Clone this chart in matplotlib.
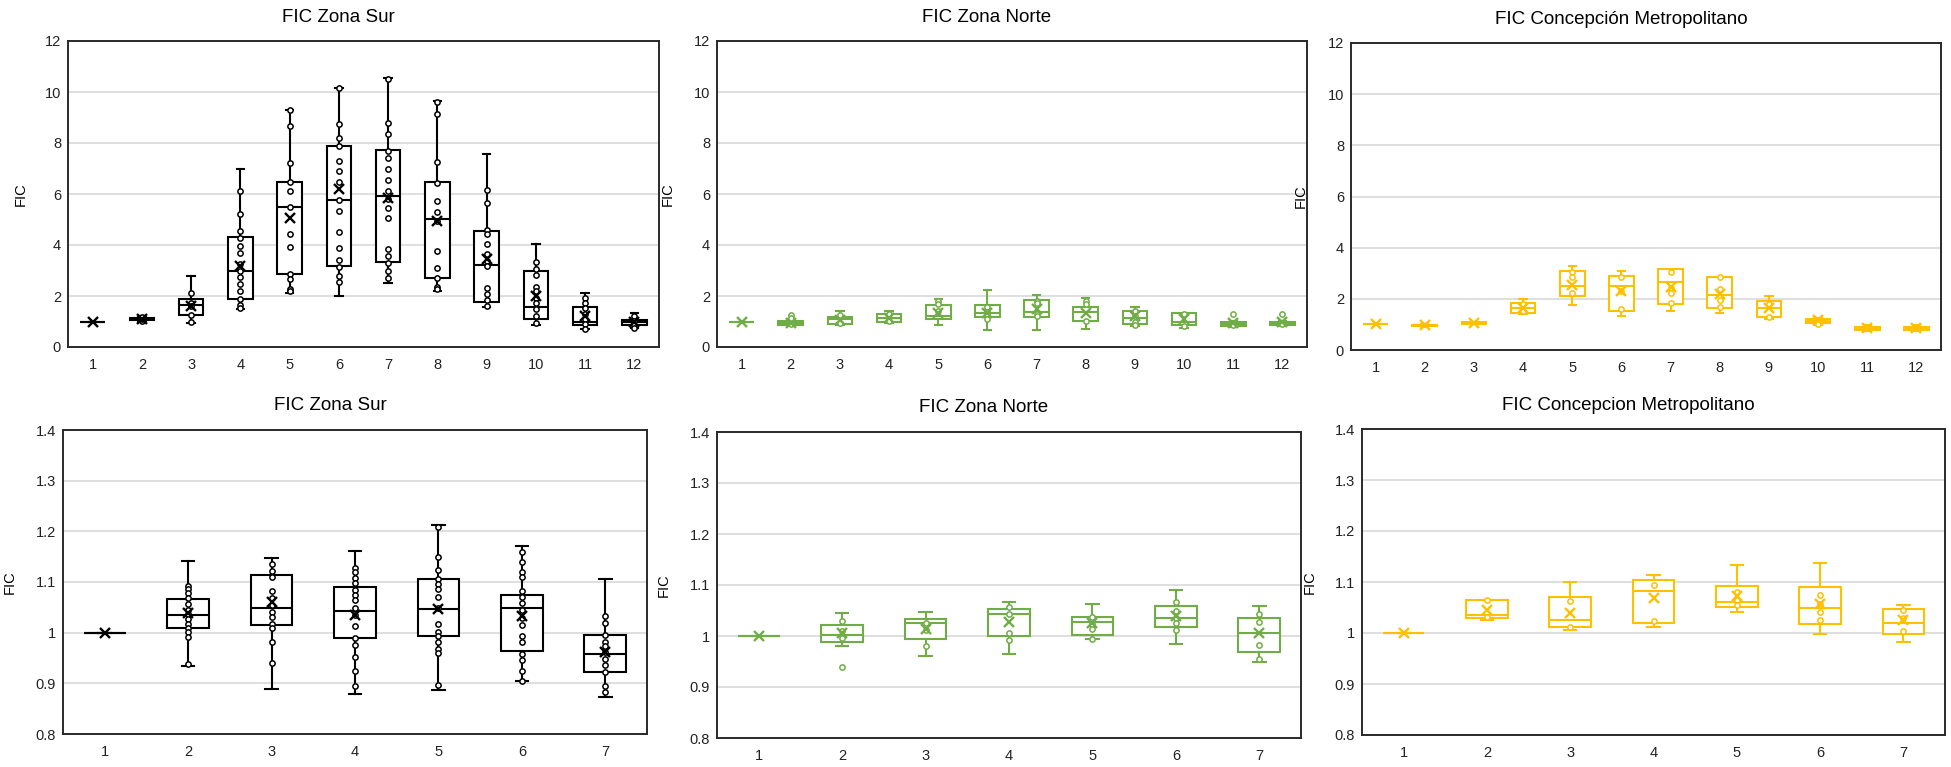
import matplotlib.pyplot as plt

plt.rcParams['font.family'] = ['Liberation Sans', 'DejaVu Sans']

# ---------------- data ----------------
top_x = list(range(1, 13))
bottom_x = list(range(1, 8))

top_yticks = [0, 2, 4, 6, 8, 10, 12]
top_ytick_labels = ['0', '2', '4', '6', '8', '10', '12']
bottom_yticks = [0.8, 0.9, 1.0, 1.1, 1.2, 1.3, 1.4]
bottom_ytick_labels = ['0.8', '0.9', '1', '1.1', '1.2', '1.3', '1.4']

# FIC Zona Sur (top)
sur_top_lo = [1.00, 1.02, 0.95, 1.48, 2.11, 2.00, 2.52, 2.20, 1.57, 0.88, 0.71, 0.73]
sur_top_q1 = [1.00, 1.05, 1.25, 1.87, 2.86, 3.17, 3.32, 2.69, 1.78, 1.11, 0.86, 0.86]
sur_top_med = [1.00, 1.08, 1.65, 2.97, 5.50, 5.77, 5.94, 5.03, 3.22, 1.57, 0.99, 0.97]
sur_top_q3 = [1.00, 1.12, 1.87, 4.30, 6.49, 7.88, 7.73, 6.49, 4.55, 2.97, 1.58, 1.04]
sur_top_hi = [1.00, 1.18, 2.78, 6.98, 9.30, 10.15, 10.55, 9.66, 7.55, 4.02, 2.11, 1.35]
sur_top_mean = [1.00, 1.10, 1.60, 3.19, 5.04, 6.19, 5.83, 4.95, 3.46, 2.00, 1.21, 0.97]
sur_top_pts = [
    [],
    [1.03, 1.08, 1.12, 1.17],
    [2.10, 1.74, 1.60, 1.25, 0.99],
    [6.12, 5.20, 4.54, 4.29, 3.98, 3.68, 3.26, 3.00, 2.76, 2.47, 2.18, 1.90, 1.65, 1.52],
    [9.30, 8.67, 7.22, 6.49, 6.13, 5.50, 4.42, 3.92, 2.86, 2.66, 2.27, 2.18],
    [10.15, 8.76, 8.20, 7.88, 7.31, 6.91, 6.49, 5.77, 5.33, 4.51, 3.88, 3.43, 3.13, 2.80, 2.56],
    [10.51, 8.80, 8.34, 7.68, 7.41, 6.98, 6.53, 6.12, 5.80, 5.44, 5.04, 3.83, 3.56, 3.30, 2.97, 2.70],
    [9.62, 9.12, 7.26, 6.42, 5.74, 5.29, 4.95, 3.75, 3.09, 2.69, 2.37, 2.26],
    [6.16, 5.66, 4.60, 4.45, 4.05, 3.63, 3.39, 3.17, 2.31, 2.07, 1.83, 1.61],
    [3.32, 3.06, 2.84, 2.37, 2.18, 1.94, 1.72, 1.48, 1.21, 0.95],
    [1.94, 1.74, 1.54, 1.28, 1.08, 0.91, 0.71],
    [1.21, 1.02, 0.88, 0.73],
]

# FIC Zona Norte (top)
norte_top_lo = [1.00, 0.85, 0.86, 0.95, 0.86, 0.66, 0.66, 0.69, 0.82, 0.75, 0.78, 0.82]
norte_top_q1 = [1.00, 0.88, 0.92, 0.99, 1.08, 1.19, 1.17, 1.02, 0.91, 0.86, 0.84, 0.86]
norte_top_med = [1.00, 0.95, 1.08, 1.15, 1.21, 1.35, 1.37, 1.39, 1.15, 0.99, 0.92, 0.92]
norte_top_q3 = [1.00, 1.02, 1.19, 1.31, 1.65, 1.65, 1.83, 1.58, 1.41, 1.32, 0.99, 0.99]
norte_top_hi = [1.00, 1.10, 1.41, 1.41, 1.87, 2.23, 2.04, 1.94, 1.58, 1.35, 1.02, 1.02]
norte_top_mean = [1.00, 0.95, 1.05, 1.12, 1.35, 1.35, 1.48, 1.32, 1.21, 1.08, 0.95, 0.99]
norte_top_pts = [
    [], [1.25, 1.15, 0.92], [1.25, 0.95], [1.28, 1.02], [1.81, 1.67, 1.41],
    [1.57, 1.39, 1.28, 1.08], [1.81, 1.74, 1.28, 1.21], [1.81, 1.67, 1.02],
    [1.41, 1.21, 0.99, 0.86], [1.28, 0.82], [1.31, 0.86], [1.28, 0.90],
]

# FIC Concepción Metropolitano (top)
conce_top_lo = [1.00, 0.91, 1.00, 1.41, 1.76, 1.32, 1.52, 1.45, 1.23, 0.99, 0.73, 0.73]
conce_top_q1 = [1.00, 0.93, 1.02, 1.45, 2.11, 1.52, 1.78, 1.63, 1.28, 1.06, 0.77, 0.78]
conce_top_med = [1.00, 0.96, 1.05, 1.65, 2.51, 2.51, 2.64, 2.15, 1.65, 1.15, 0.83, 0.86]
conce_top_q3 = [1.00, 0.99, 1.09, 1.84, 3.07, 2.91, 3.15, 2.84, 1.92, 1.22, 0.89, 0.90]
conce_top_hi = [1.00, 1.00, 1.10, 2.00, 3.28, 3.10, 3.17, 2.87, 2.11, 1.26, 0.99, 0.99]
conce_top_mean = [1.00, 0.96, 1.05, 1.65, 2.55, 2.31, 2.47, 2.18, 1.65, 1.16, 0.85, 0.86]
conce_top_pts = [
    [], [], [], [1.78, 1.52], [3.04, 2.84, 2.21], [2.84, 2.31, 1.59],
    [3.04, 2.42, 2.21, 1.85], [2.87, 2.38, 1.94, 1.68], [1.81, 1.28], [1.02], [], [],
]

# FIC Zona Sur (bottom)
sur_bot_lo = [1.000, 0.934, 0.888, 0.878, 0.886, 0.904, 0.873]
sur_bot_q1 = [1.000, 1.010, 1.016, 0.989, 0.993, 0.964, 0.922]
sur_bot_med = [1.000, 1.034, 1.048, 1.043, 1.047, 1.048, 0.957]
sur_bot_q3 = [1.000, 1.066, 1.114, 1.091, 1.106, 1.075, 0.996]
sur_bot_hi = [1.000, 1.141, 1.147, 1.162, 1.213, 1.172, 1.106]
sur_bot_mean = [1.000, 1.038, 1.060, 1.034, 1.047, 1.032, 0.961]
sur_bot_pts = [
    [],
    [1.093, 1.086, 1.078, 1.068, 1.056, 1.045, 1.036, 1.027, 1.018, 1.010, 1.002, 0.992, 0.939],
    [1.136, 1.122, 1.109, 1.082, 1.068, 1.055, 1.041, 1.030, 1.018, 1.010, 0.981, 0.941],
    [1.127, 1.119, 1.108, 1.098, 1.084, 1.075, 1.065, 1.048, 1.035, 1.014, 0.989, 0.975,
     0.951, 0.924, 0.895],
    [1.209, 1.149, 1.124, 1.106, 1.096, 1.086, 1.070, 1.048, 1.017, 1.002, 0.994, 0.981,
     0.967, 0.959, 0.896],
    [1.159, 1.139, 1.119, 1.109, 1.083, 1.070, 1.058, 1.045, 1.028, 1.016, 0.994, 0.981,
     0.957, 0.947, 0.924, 0.905],
    [1.032, 1.020, 0.995, 0.982, 0.973, 0.962, 0.949, 0.936, 0.922, 0.894, 0.883],
]

# FIC Zona Norte (bottom)
norte_bot_lo = [1.000, 0.981, 0.960, 0.965, 0.994, 0.985, 0.950]
norte_bot_q1 = [1.000, 0.989, 0.995, 1.000, 1.002, 1.018, 0.969]
norte_bot_med = [1.000, 1.001, 1.026, 1.044, 1.028, 1.035, 1.006]
norte_bot_q3 = [1.000, 1.022, 1.033, 1.053, 1.037, 1.059, 1.035]
norte_bot_hi = [1.000, 1.045, 1.048, 1.066, 1.063, 1.091, 1.058]
norte_bot_mean = [1.000, 1.005, 1.013, 1.028, 1.026, 1.039, 1.005]
norte_bot_pts = [
    [], [1.030, 1.010, 0.996, 0.940], [1.025, 1.012, 0.980], [1.056, 1.043, 1.005, 0.993],
    [1.038, 1.023, 1.013, 0.994], [1.066, 1.049, 1.035, 1.026, 1.012],
    [1.044, 1.028, 0.983, 0.955],
]

# FIC Concepcion Metropolitano (bottom)
conce_bot_lo = [1.000, 1.025, 1.006, 1.011, 1.041, 0.998, 0.982]
conce_bot_q1 = [1.000, 1.030, 1.011, 1.020, 1.051, 1.018, 0.998]
conce_bot_med = [1.000, 1.036, 1.025, 1.082, 1.061, 1.049, 1.020]
conce_bot_q3 = [1.000, 1.064, 1.071, 1.104, 1.092, 1.090, 1.047]
conce_bot_hi = [1.000, 1.064, 1.100, 1.114, 1.134, 1.137, 1.055]
conce_bot_mean = [1.000, 1.045, 1.039, 1.069, 1.073, 1.056, 1.026]
conce_bot_pts = [
    [], [1.064, 1.032], [1.063, 1.012], [1.094, 1.024], [1.080, 1.065, 1.054],
    [1.075, 1.056, 1.041, 1.026], [1.046, 1.030, 1.003],
]

BLACK = '#000000'
GREEN = '#70AD47'
GOLD = '#FFC000'

W, H = 1951, 767
fig = plt.figure(figsize=(W / 100, H / 100), dpi=100)


def add_axes(l, t, r, b):
    return fig.add_axes([l / W, 1 - b / H, (r - l) / W, (b - t) / H])


def draw_panel(ax, x, lo, q1, med, q3, hi, mean, pts, color, yticks, ylabels, title, label_x):
    stats = []
    for a, b, c, d, e, f in zip(lo, q1, med, q3, hi, mean):
        stats.append(dict(whislo=a, q1=b, med=c, q3=d, whishi=e, mean=f, fliers=[]))
    lw = 1.5
    ax.bxp(stats, positions=x, widths=0.5, capwidths=0.15, showmeans=True,
           patch_artist=True, showfliers=False,
           boxprops=dict(facecolor='white', edgecolor=color, linewidth=lw),
           medianprops=dict(color=color, linewidth=lw),
           whiskerprops=dict(color=color, linewidth=lw),
           capprops=dict(color=color, linewidth=lw),
           meanprops=dict(marker='x', markeredgecolor=color, markersize=7,
                          markeredgewidth=1.7, zorder=6))
    for xi, p in zip(x, pts):
        ax.plot([xi] * len(p), p, 'o', mfc='white', mec=color, ms=3.8, mew=1.1,
                zorder=5, linestyle='none')

    ax.set_xlim(0.5, len(x) + 0.5)
    ax.set_ylim(yticks[0], yticks[-1])
    ax.set_yticks(yticks)
    ax.set_yticklabels(ylabels)
    ax.set_xticks(x)
    ax.set_xticklabels([str(i) for i in x])
    ax.tick_params(length=0, labelsize=10.5, colors='#222222')
    ax.tick_params(axis='y', pad=5)
    ax.tick_params(axis='x', pad=8)
    ax.set_axisbelow(True)
    ax.yaxis.grid(True, color='#d9d9d9', linewidth=1.2)
    for s in ax.spines.values():
        s.set_color('#2a2a2a')
        s.set_linewidth(1.4)
    ax.set_ylabel('FIC', fontsize=10.5)
    ax.yaxis.set_label_coords(label_x, 0.5)

    # title centred over the chart area (slightly left of the plot box)
    pos = ax.get_position()
    cx = (pos.x0 + pos.x1) / 2 - 25 / W
    fig.text(cx, pos.y1 + 24 / H, title, ha='center', va='center', fontsize=13.5)


ax = add_axes(68, 41, 659, 347)
draw_panel(ax, top_x, sur_top_lo, sur_top_q1, sur_top_med, sur_top_q3, sur_top_hi,
           sur_top_mean, sur_top_pts, BLACK, top_yticks, top_ytick_labels,
           'FIC Zona Sur', -0.068)

ax = add_axes(717, 41, 1307, 347)
draw_panel(ax, top_x, norte_top_lo, norte_top_q1, norte_top_med, norte_top_q3, norte_top_hi,
           norte_top_mean, norte_top_pts, GREEN, top_yticks, top_ytick_labels,
           'FIC Zona Norte', -0.071)

ax = add_axes(1351, 43, 1941, 350)
draw_panel(ax, top_x, conce_top_lo, conce_top_q1, conce_top_med, conce_top_q3, conce_top_hi,
           conce_top_mean, conce_top_pts, GOLD, top_yticks, top_ytick_labels,
           'FIC Concepción Metropolitano', -0.073)

ax = add_axes(63, 430, 647, 734)
draw_panel(ax, bottom_x, sur_bot_lo, sur_bot_q1, sur_bot_med, sur_bot_q3, sur_bot_hi,
           sur_bot_mean, sur_bot_pts, BLACK, bottom_yticks, bottom_ytick_labels,
           'FIC Zona Sur', -0.079)

ax = add_axes(717, 432, 1301, 738)
draw_panel(ax, bottom_x, norte_bot_lo, norte_bot_q1, norte_bot_med, norte_bot_q3, norte_bot_hi,
           norte_bot_mean, norte_bot_pts, GREEN, bottom_yticks, bottom_ytick_labels,
           'FIC Zona Norte', -0.079)

ax = add_axes(1362, 429, 1945, 735)
draw_panel(ax, bottom_x, conce_bot_lo, conce_bot_q1, conce_bot_med, conce_bot_q3, conce_bot_hi,
           conce_bot_mean, conce_bot_pts, GOLD, bottom_yticks, bottom_ytick_labels,
           'FIC Concepcion Metropolitano', -0.077)

plt.savefig('out.png', dpi=100)
